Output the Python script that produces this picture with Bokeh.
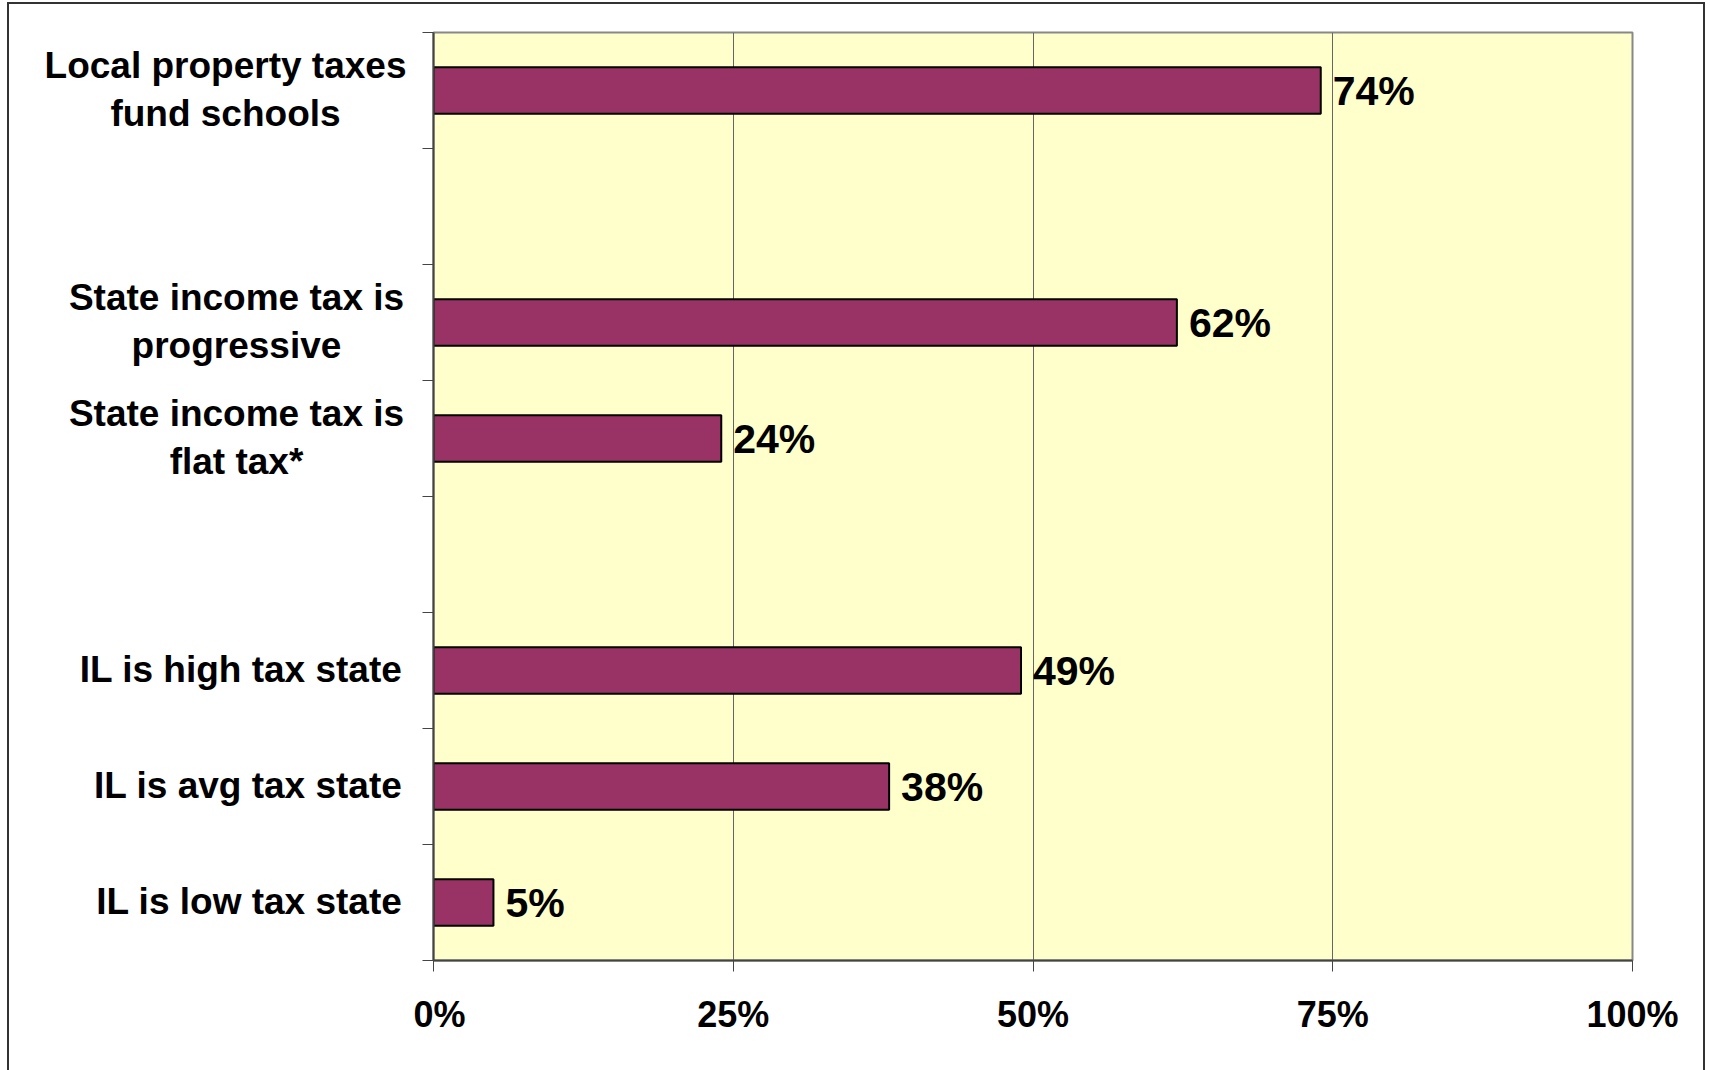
from bokeh.plotting import figure
from bokeh.layouts import row
from bokeh.models import Range1d, FixedTicker, ColumnDataSource
from bokeh.core.properties import value
from bokeh.embed import file_html
from bokeh.resources import INLINE

# ---- data ----
categories = [
    "Local property taxes\nfund schools",
    "State income tax is\nprogressive",
    "State income tax is\nflat tax*",
    "IL is high tax state",
    "IL is avg tax state",
    "IL is low tax state",
]
values = [74, 62, 24, 49, 38, 5]
slots = [0, 2, 3, 5, 6, 7]          # row index from the top (rows 1 and 4 are empty)
n_slots = 8
x_ticks = [0, 25, 50, 75, 100]
x_tick_labels = ["0%", "25%", "50%", "75%", "100%"]

FONT = "Liberation Sans"

# ---- layout ----
H = 1066
MB_T, MB_B = 28, 110
LEFT_W = 404                 # label panel width (px)
MAIN_L, MAIN_R = 20, 71
FRAME_W = 1199
MAIN_W = MAIN_L + FRAME_W + MAIN_R

y_pos = [n_slots - s - 0.5 for s in slots]
y_range = Range1d(0, n_slots)

src = ColumnDataSource(dict(y=y_pos, v=values, txt=[f"{v}%" for v in values]))

# ---- main chart ----
p = figure(
    width=MAIN_W, height=H,
    x_range=Range1d(0, 100), y_range=y_range,
    output_backend="svg", toolbar_location=None,
    min_border_left=MAIN_L, min_border_right=MAIN_R,
    min_border_top=MB_T, min_border_bottom=MB_B,
)
p.background_fill_color = "#FFFFCC"
p.border_fill_color = "white"
p.outline_line_color = "#888888"
p.outline_line_width = 2

p.hbar(y="y", right="v", left=0, height=0.4, source=src,
       fill_color="#993366", line_color="black", line_width=2)

p.text(x="v", y="y", text="txt", source=src, x_offset=12,
       text_font=value(FONT), text_font_style="bold", text_font_size="41px",
       text_baseline="middle", text_align="left", text_color="black")

xa = p.xaxis[0]
xa.ticker = FixedTicker(ticks=x_ticks)
xa.major_label_overrides = {t: l for t, l in zip(x_ticks, x_tick_labels)}
xa.major_label_text_font = FONT
xa.major_label_text_font_style = "bold"
xa.major_label_text_font_size = "36px"
xa.major_label_text_color = "black"
xa.major_label_standoff = 22
xa.axis_line_color = "#444444"
xa.axis_line_width = 2
xa.major_tick_line_color = "#444444"
xa.major_tick_line_width = 1
xa.major_tick_out = 11
xa.major_tick_in = 0
xa.minor_tick_line_color = None

ya = p.yaxis[0]
ya.ticker = FixedTicker(ticks=[], minor_ticks=list(range(n_slots + 1)))
ya.axis_line_color = "#444444"
ya.axis_line_width = 2
ya.minor_tick_line_color = "#444444"
ya.minor_tick_line_width = 1
ya.minor_tick_out = 11
ya.minor_tick_in = 0
ya.major_tick_line_color = None

p.xgrid.grid_line_color = "#666666"
p.xgrid.grid_line_width = 1
p.xgrid.ticker = FixedTicker(ticks=x_ticks[1:])
p.ygrid.grid_line_color = None

# ---- category label panel (shares the y scale) ----
lab_x, lab_align = [], []
for cat in categories:
    if "\n" in cat:
        lab_x.append(216 if cat.startswith("Local") else 227)
        lab_align.append("center")
    else:
        lab_x.append(393)
        lab_align.append("right")
lsrc = ColumnDataSource(dict(x=lab_x, y=y_pos, t=categories, a=lab_align))

q = figure(
    width=LEFT_W, height=H,
    x_range=Range1d(0, LEFT_W), y_range=y_range,
    output_backend="svg", toolbar_location=None,
    x_axis_location=None, y_axis_location=None,
    min_border_left=0, min_border_right=0,
    min_border_top=MB_T, min_border_bottom=MB_B,
)
q.outline_line_color = None
q.background_fill_color = "white"
q.border_fill_color = "white"
q.grid.grid_line_color = None
q.text(x="x", y="y", text="t", source=lsrc, text_align="a", y_offset=-1,
       text_baseline="middle", text_font=value(FONT), text_font_style="bold",
       text_font_size="37px", text_line_height=1.15, text_color="black")

layout = row(q, p)
layout.styles = {"border-left": "2px solid #333333", "border-top": "2px solid #333333",
                 "border-right": "2px solid #333333",
                 "margin-left": "7px", "margin-top": "2px"}

open("out.html", "w").write(file_html(layout, INLINE))
